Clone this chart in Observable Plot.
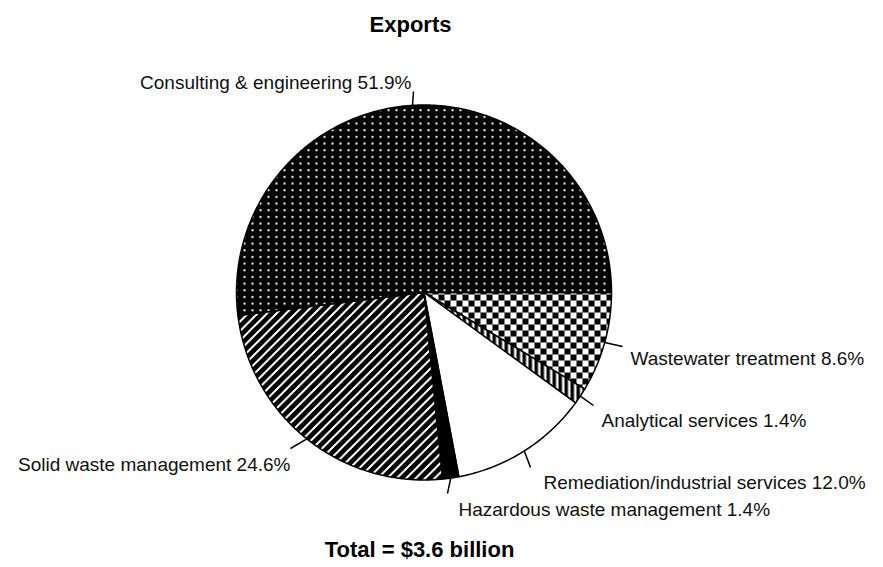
<!DOCTYPE html>
<html><head><meta charset="utf-8">
<script src="https://cdn.jsdelivr.net/npm/d3@7"></script>
<script src="https://cdn.jsdelivr.net/npm/@observablehq/plot@0.6"></script>
<style>body{margin:0;background:#fff}</style>
</head><body><div id="chart"></div>
<script>
// ---- data ----
const categories = ["Wastewater treatment", "Analytical services", "Remediation/industrial services", "Hazardous waste management", "Solid waste management", "Consulting & engineering"];
const shares = [8.6, 1.4, 12.0, 1.4, 24.6, 51.9];
const fills = ["url(#checker)", "url(#vstripes)", "#ffffff", "#000000", "url(#diag)", "url(#dots)"];
const title = "Exports";
const caption = "Total = $3.6 billion";

// ---- layout ----
const W = 883, H = 567, cx = 423.5, cy = 292, R = 187.5;
const leaderEnds = [[622, 346], [593, 405], [530, 467], [447, 493], [290, 448], [413, 91]];
const labelPos = [[630, 364, "start"], [601, 426, "start"], [543, 488, "start"], [458, 515, "start"], [290, 470, "end"], [411, 88, "end"]];

const arcs = d3.pie().sort(null).startAngle(Math.PI / 2).endAngle(Math.PI / 2 + 2 * Math.PI)(shares);
const pt = (a, r) => ({x: cx + r * Math.sin(a), y: cy - r * Math.cos(a)});

const marks = [];
arcs.forEach((d, i) => {
  const pts = [pt(0, 0)];
  const n = Math.max(2, Math.ceil((d.endAngle - d.startAngle) / (Math.PI / 360)));
  for (let k = 0; k <= n; k++) pts.push(pt(d.startAngle + (d.endAngle - d.startAngle) * k / n, R));
  pts.push(pt(0, 0));
  marks.push(Plot.line(pts, {x: "x", y: "y", fill: fills[i], stroke: "black", strokeWidth: 1.5, strokeLinejoin: "round", curve: "linear"}));
});

const leaders = arcs.map((d, i) => {
  const m = (d.startAngle + d.endAngle) / 2, p = pt(m, R);
  return {x1: p.x, y1: p.y, x2: leaderEnds[i][0], y2: leaderEnds[i][1]};
});
marks.push(Plot.link(leaders, {x1: "x1", y1: "y1", x2: "x2", y2: "y2", stroke: "black", strokeWidth: 1.5}));

const labels = categories.map((c, i) => ({text: `${c} ${shares[i].toFixed(1)}%`, x: labelPos[i][0], y: labelPos[i][1], anchor: labelPos[i][2]}));
for (const anchor of ["start", "end"]) {
  marks.push(Plot.text(labels.filter(d => d.anchor === anchor), {x: "x", y: "y", text: "text", textAnchor: anchor, lineAnchor: "bottom", fontSize: 19, fill: "#111"}));
}
marks.push(Plot.text([title], {x: () => 410, y: () => 31, text: d => d, textAnchor: "middle", lineAnchor: "bottom", fontSize: 22, fontWeight: "bold", fill: "black"}));
marks.push(Plot.text([caption], {x: () => 419, y: () => 556, text: d => d, textAnchor: "middle", lineAnchor: "bottom", fontSize: 22, fontWeight: "bold", fill: "black"}));

const svg = Plot.plot({
  width: W, height: H, margin: 0,
  x: {domain: [0, W], range: [0, W], axis: null},
  y: {domain: [0, H], range: [0, H], axis: null},
  style: {fontFamily: "'Liberation Sans', Arial, sans-serif", background: "white"},
  marks
});
d3.select(svg).insert("defs", ":first-child").html(`
<pattern id="dots" patternUnits="userSpaceOnUse" width="8" height="6.67"><rect width="8" height="6.67" fill="#000"/><rect x="3" y="2" width="2" height="2" fill="#fff"/></pattern>
<pattern id="diag" patternUnits="userSpaceOnUse" width="9.5" height="9.5"><rect width="9.5" height="9.5" fill="#000"/><path d="M-2,2L2,-2M0,9.5L9.5,0M7.5,11.5L11.5,7.5" stroke="#fff" stroke-width="1.8" shape-rendering="crispEdges"/></pattern>
<pattern id="checker" patternUnits="userSpaceOnUse" width="12" height="12"><rect width="12" height="12" fill="#fff"/><rect width="6" height="6" fill="#000"/><rect x="6" y="6" width="6" height="6" fill="#000"/></pattern>
<pattern id="vstripes" patternUnits="userSpaceOnUse" width="6" height="6"><rect width="6" height="6" fill="#fff"/><rect width="3.5" height="6" fill="#000"/></pattern>`);
document.getElementById("chart").appendChild(svg);
</script>
</body></html>
